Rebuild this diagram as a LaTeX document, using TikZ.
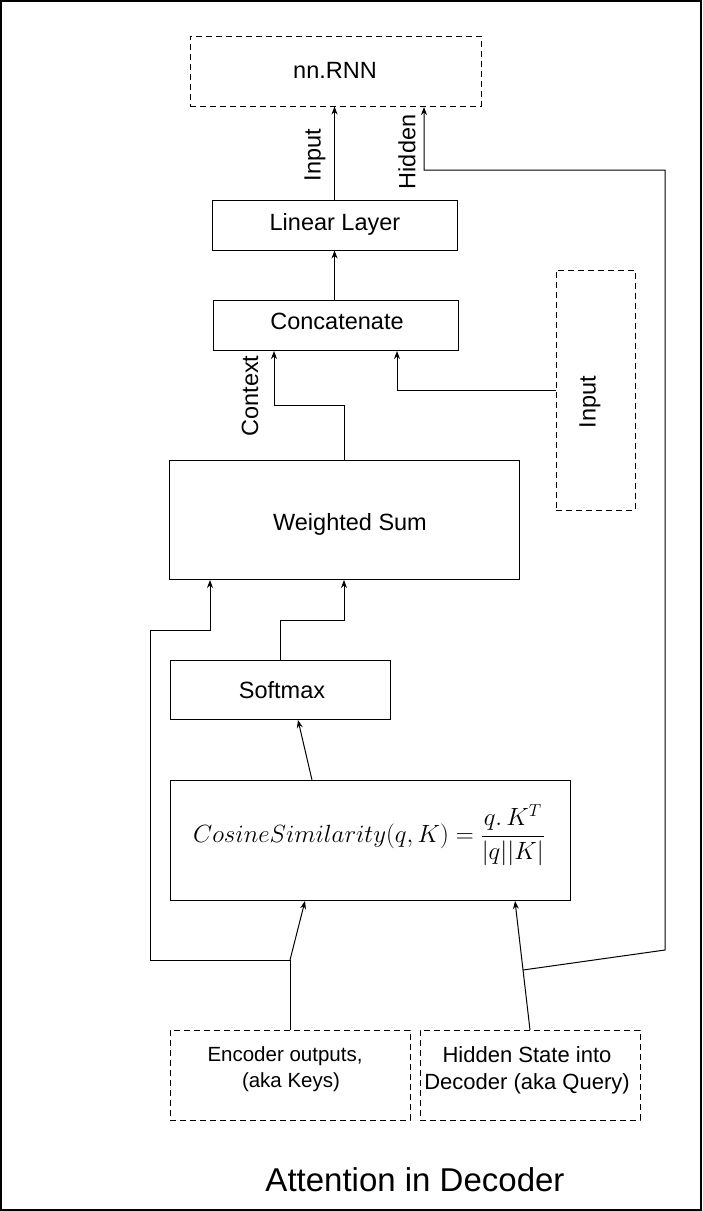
\documentclass[tikz,border=0pt]{standalone}
\usepackage{fontspec}
\setmainfont{Liberation Sans}
\usetikzlibrary{arrows.meta,calc}
\begin{document}
\begin{tikzpicture}[x=1pt,y=-1pt,
  box/.style={draw,line width=1pt,inner sep=0pt},
  dbox/.style={box,dash pattern=on 6pt off 4pt},
  txt/.style={font=\fontsize{23.5}{27}\selectfont},
  lab/.style={rotate=90,font=\fontsize{23.5}{27}\selectfont,inner sep=0pt},
  arr/.style={line width=1pt,-{Stealth[length=8pt,width=6pt]}},
  ln/.style={line width=1pt}]
\useasboundingbox (0,0) rectangle (702,1211);
\draw[line width=2pt] (1,1) rectangle (701,1210);
% boxes
\node[dbox,minimum width=291pt,minimum height=70pt] (rnn) at (335.5,71) {};
\node[txt] (rnnt) at (335,70) {nn.RNN};
\node[box,minimum width=245pt,minimum height=50pt] (lin) at (334.5,225) {};
\node[txt] (lint) at (335,224) {Linear Layer};
\node[box,minimum width=245pt,minimum height=50pt] (cat) at (335.5,325) {};
\node[txt] (catt) at (337,321) {Concatenate};
\node[dbox,minimum width=79pt,minimum height=240pt] (inp) at (595.5,390) {};
\node[lab] (inpt) at (590,402) {Input};
\node[box,minimum width=350pt,minimum height=119pt] (ws) at (344,519.5) {};
\node[txt] (wst) at (350,524) {Weighted Sum};
\node[box,minimum width=220pt,minimum height=59pt] (sm) at (280,689.5) {};
\node[txt] (smt) at (282,690) {Softmax};
\node[box,minimum width=400pt,minimum height=120pt] (cos) at (370,840) {};
\node[inner sep=0pt,font=\fontsize{26.5}{30}\selectfont] (cost) at (369,835) {$\displaystyle CosineSimilarity(q,K) = \frac{q.\,K^T}{|q||K|}$};
\node[dbox,minimum width=240pt,minimum height=90pt] (enc) at (290,1075) {};
\node[txt,align=center,font=\fontsize{20.5}{26}\selectfont] (enct) at (285,1069) {Encoder outputs,\\\hspace*{12pt}(aka Keys)};
\node[dbox,minimum width=220pt,minimum height=90pt] (hid) at (530,1075) {};
\node[txt,align=center,font=\fontsize{22}{27}\selectfont] (hidt) at (527,1070) {Hidden State into\\Decoder (aka Query)};
\node[font=\fontsize{33}{38}\selectfont] (title) at (415,1180) {Attention in Decoder};
% connection points
\coordinate (hr1) at (665,170);
\coordinate (hr2) at (665,950);
\coordinate (hj) at (523,970);
\coordinate (ej) at (290,960);
\coordinate (el1) at (150,960);
\coordinate (el2) at (150,630);
\coordinate (el3) at (210,630);
% connectors
\draw[arr] (lin.north) -- (lin.north |- rnn.south);
\node[lab] (inl) at (315,155) {Input};
\draw[arr] (hj) -- (hr2) -- (hr1) -- (424,170) -- (424,107);
\node[lab] (hidl) at (407,152) {Hidden};
\draw[arr] (cat.north -| lin.north) -- (lin.south);
\draw[arr] (ws.north) -- (344,405) -- (274,405) -- (274,351);
\node[lab] (ctxl) at (250,396) {Context};
\draw[arr] (inp.west |- 0,390) -- (397,390) -- (397,351);
\draw[arr] (sm.north) -- (280,620) -- (344,620) -- (344,580);
\draw[ln] (enc.north) -- (ej);
\draw[arr] (ej) -- (el1) -- (el2) -- (el3) -- (210,580);
\draw[arr] (ej) -- (305,901);
\draw[arr] (530,1030) -- (515,901);
\draw[arr] (312,780) -- (298,720);
\end{tikzpicture}
\end{document}
